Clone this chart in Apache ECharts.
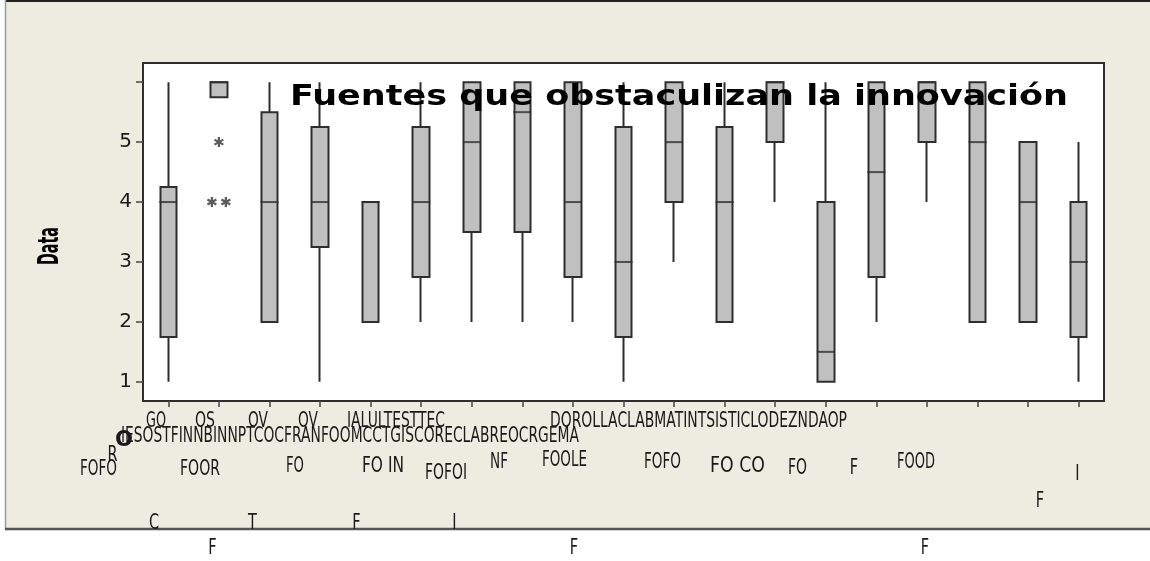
<!DOCTYPE html>
<html>
<head>
<meta charset="utf-8">
<script src="https://cdn.jsdelivr.net/npm/echarts@6/dist/echarts.min.js"></script>
<style>
  html, body { margin: 0; padding: 0; background: #fff; }
  #chart { width: 1150px; height: 561px; }
</style>
</head>
<body>
<div id="chart"></div>
<script>
// categories (one box per obstacle source)
const categories = ['F01', 'F02', 'F03', 'F04', 'F05', 'F06', 'F07', 'F08', 'F09', 'F10',
                    'F11', 'F12', 'F13', 'F14', 'F15', 'F16', 'F17', 'F18', 'F19'];

// five-number summaries
const lowWhisker  = [1,    5.75, 2,   1,    2, 2,    2,   2,   2,    1,    3, 2,    4, 1,   2,    4, 2, 2, 1];
const q1          = [1.75, 5.75, 2,   3.25, 2, 2.75, 3.5, 3.5, 2.75, 1.75, 4, 2,    5, 1,   2.75, 5, 2, 2, 1.75];
const medians     = [4,    6,    4,   4,    4, 4,    5,   5.5, 4,    3,    5, 4,    6, 1.5, 4.5,  6, 5, 4, 3];
const q3          = [4.25, 6,    5.5, 5.25, 4, 5.25, 6,   6,   6,    5.25, 6, 5.25, 6, 4,   6,    6, 6, 5, 4];
const highWhisker = [6,    6,    6,   6,    4, 6,    6,   6,   6,    6,    6, 6,    6, 6,   6,    6, 6, 5, 5];

// outliers (asterisks)
const outlierCategory = [1, 1, 1];
const outlierValue    = [5, 4, 4];

// y axis
const yTickValues  = [1, 2, 3, 4, 5, 6];
const yLabelValues = [1, 2, 3, 4, 5];

const titleText = 'Fuentes que obstaculizan la innovación';
const yAxisTitle = 'Data';

// garbled category label fragments as they appear under the axis
const labelTexts = [
  'GO', 'OS', 'OV', 'OV', 'IALULTESTTEC', 'DOROLLACLABMATINTSISTICLODEZNDAOP',
  'IESOSTFINNBINNPTCOCFRANFOOMCCTGISCORECLABREOCRGEMA', 'O', 'R',
  'FOFO', 'FOOR', 'FO', 'FO IN', 'FOFOI', 'NF', 'FOOLE', 'FOFO', 'FO CO', 'FO', 'F', 'FOOD',
  'I', 'F', 'C', 'T', 'F', 'I', 'F', 'F', 'F'
];

// ---- layout (pixels) ----
// [left, right, centerY] for each label fragment
const labelBoxes = [
  [146, 166, 421], [195, 215, 421], [248, 268, 421], [298, 318, 421], [347, 445, 421], [550, 847, 421],
  [121, 579, 436], [115, 133, 440], [108, 117, 455],
  [80, 117, 469], [180, 220, 469], [286, 304, 466], [362, 404, 466], [425, 467, 473], [490, 508, 462],
  [542, 587, 460], [644, 681, 462], [710, 765, 466], [788, 807, 468], [850, 858, 468], [897, 935, 462],
  [1075, 1080, 474], [1037, 1043, 501], [150, 158, 523], [248, 257, 523], [353, 360, 523], [452, 457, 523],
  [208, 217, 548], [571, 577, 548], [922, 928, 548]
];
const boldLabel = [7];
const singleCharScale = 0.66;
const outlierJitter = [0, -7, 7];

const measureCtx = document.createElement('canvas').getContext('2d');
function fitScale(text, font, width) {
  measureCtx.font = font;
  return width / measureCtx.measureText(text).width;
}

// six-armed asterisk symbol
function asteriskPath() {
  let d = '';
  [90, 30, -30].forEach(function (deg) {
    const a = deg * Math.PI / 180, c = Math.cos(a), s = Math.sin(a);
    const L = 5, W = 1.1;
    const p = [[L * c - W * s, L * s + W * c], [L * c + W * s, L * s - W * c],
               [-L * c + W * s, -L * s - W * c], [-L * c - W * s, -L * s + W * c]];
    d += 'M' + p.map(q => q[0].toFixed(2) + ' ' + q[1].toFixed(2)).join('L') + 'Z';
  });
  return 'path://' + d;
}

const chart = echarts.init(document.getElementById('chart'));

const labelFont = '22px "DejaVu Sans"';
const labelBoldFont = 'bold 22px "DejaVu Sans"';
const titleFont = 'bold 28px "DejaVu Sans"';
const yTitleFont = 'bold 28px "DejaVu Sans"';

const graphics = [
  { type: 'rect', z: -10, silent: true, shape: { x: 5, y: 0, width: 1150, height: 529 }, style: { fill: '#EEEBE1' } },
  { type: 'line', z: -9, silent: true, shape: { x1: 5, y1: 1, x2: 1150, y2: 1 }, style: { stroke: '#222', lineWidth: 2 } },
  { type: 'line', z: -9, silent: true, shape: { x1: 5.5, y1: 0, x2: 5.5, y2: 529 }, style: { stroke: '#9a9a9a', lineWidth: 1.5 } },
  { type: 'line', z: -9, silent: true, shape: { x1: 5, y1: 529, x2: 1150, y2: 529 }, style: { stroke: '#555', lineWidth: 2.5 } },
  {
    type: 'text', z: 20, x: 290, y: 98,
    scaleX: fitScale(titleText, titleFont, 778),
    style: { text: titleText, font: titleFont, fill: '#000', align: 'left', verticalAlign: 'middle' }
  },
  {
    type: 'text', z: 20, x: 51, y: 246, rotation: Math.PI / 2,
    scaleX: fitScale(yAxisTitle, yTitleFont, 38),
    style: { text: yAxisTitle, font: yTitleFont, fill: '#000', align: 'center', verticalAlign: 'middle' }
  }
];

labelTexts.forEach(function (t, i) {
  const b = labelBoxes[i];
  const font = boldLabel.indexOf(i) >= 0 ? labelBoldFont : labelFont;
  const single = t.length === 1 && boldLabel.indexOf(i) < 0;
  graphics.push({
    type: 'text', z: 20,
    x: single ? (b[0] + b[1]) / 2 : b[0],
    y: b[2],
    scaleX: single ? singleCharScale : fitScale(t, font, b[1] - b[0]),
    style: { text: t, font: font, fill: '#1a1a1a', align: single ? 'center' : 'left', verticalAlign: 'middle' }
  });
});

const boxData = categories.map((c, i) => [q1[i], q3[i], lowWhisker[i], highWhisker[i]]);
const medianData = categories.map((c, i) => [i, medians[i]]);
const outlierData = outlierValue.map((v, i) => ({
  value: [outlierCategory[i], v],
  symbolOffset: [outlierJitter[i], 0]
}));

const option = {
  animation: false,
  backgroundColor: '#fff',
  graphic: graphics,
  grid: {
    left: 143, top: 63, right: 46, bottom: 160,
    show: true, backgroundColor: '#fff', borderColor: '#2e2e2e', borderWidth: 2
  },
  xAxis: {
    type: 'category',
    data: categories,
    boundaryGap: true,
    axisLine: { show: true, lineStyle: { color: '#2e2e2e', width: 2 } },
    axisTick: { show: true, alignWithLabel: true, length: 6, lineStyle: { color: '#444', width: 1.5 } },
    axisLabel: { show: false },
    splitLine: { show: false }
  },
  yAxis: {
    type: 'value',
    min: 0.68,
    max: 6.32,
    axisLine: { show: true, lineStyle: { color: '#2e2e2e', width: 2 } },
    axisTick: { show: true, length: 7, customValues: yTickValues, lineStyle: { color: '#444', width: 1.5 } },
    axisLabel: {
      customValues: yLabelValues,
      fontFamily: 'DejaVu Sans', fontSize: 20, color: '#1a1a1a', margin: 11
    },
    splitLine: { show: false }
  },
  series: [
    {
      name: 'box',
      type: 'candlestick',
      data: boxData,
      barWidth: 17,
      itemStyle: {
        color: '#C0C0C0', color0: '#C0C0C0',
        borderColor: '#2e2e2e', borderColor0: '#2e2e2e', borderWidth: 2
      }
    },
    {
      name: 'median',
      type: 'scatter',
      z: 5,
      data: medianData,
      symbol: 'rect',
      symbolSize: [18, 2],
      itemStyle: { color: '#2e2e2e' }
    },
    {
      name: 'outlier',
      type: 'scatter',
      z: 5,
      data: outlierData,
      symbol: asteriskPath(),
      symbolSize: 10,
      itemStyle: { color: '#333' }
    }
  ]
};

chart.setOption(option);
</script>
</body>
</html>
